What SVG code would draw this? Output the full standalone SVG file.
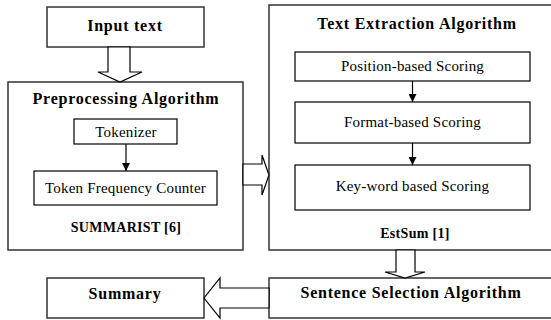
<svg xmlns="http://www.w3.org/2000/svg" width="551" height="320" viewBox="0 0 551 320">
<defs>
<style>
.outer{fill:#fff;stroke:#333;stroke-width:1.5}
.inner{fill:#fff;stroke:#000;stroke-width:1.2}
.t{font-family:"Liberation Serif","Tinos","Times New Roman","Times","DejaVu Serif",serif;fill:#000;text-anchor:middle}
.title{font-weight:bold;font-size:16px;letter-spacing:0.75px}
.label{font-size:15px;letter-spacing:0.2px}
.cite{font-weight:bold;font-size:14px;letter-spacing:0.3px}
.hollow{fill:#fff;stroke:#000;stroke-width:1.2;stroke-linejoin:miter}
.line{stroke:#000;stroke-width:1.2;fill:none}
</style>
<marker id="tri" viewBox="0 0 10 10" refX="10" refY="5" markerWidth="8" markerHeight="8" markerUnits="userSpaceOnUse" orient="auto">
<path d="M0,0 L10,5 L0,10 z" fill="#000"/>
</marker>
</defs>
<rect width="551" height="320" fill="#fff"/>

<g id="input-text">
<rect class="outer" x="47" y="7" width="157" height="40"/>
<text class="t title" x="125" y="31">Input text</text>
</g>

<g id="preprocessing">
<rect class="outer" x="8" y="82" width="235" height="168"/>
<text class="t title" x="126" y="104">Preprocessing Algorithm</text>
<text class="t cite" x="126" y="232">SUMMARIST [6]</text>
</g>

<g id="tokenizer">
<rect class="inner" x="74" y="119" width="103" height="25"/>
<text class="t label" x="126" y="137">Tokenizer</text>
</g>

<g id="token-frequency-counter">
<rect class="inner" x="34" y="171" width="183" height="34"/>
<text class="t label" x="125.5" y="193">Token Frequency Counter</text>
</g>

<g id="text-extraction">
<rect class="outer" x="269" y="5" width="290" height="245"/>
<text class="t title" x="417" y="29">Text Extraction Algorithm</text>
<text class="t cite" x="415" y="238">EstSum [1]</text>
</g>

<g id="position-scoring">
<rect class="inner" x="295" y="52" width="235" height="29"/>
<text class="t label" x="412.5" y="71">Position-based Scoring</text>
</g>

<g id="format-scoring">
<rect class="inner" x="295" y="102" width="235" height="41"/>
<text class="t label" x="412.5" y="127">Format-based Scoring</text>
</g>

<g id="keyword-scoring">
<rect class="inner" x="295" y="165" width="235" height="45"/>
<text class="t label" x="412.5" y="191">Key-word based Scoring</text>
</g>

<g id="sentence-selection">
<rect class="outer" x="269" y="278" width="290" height="40"/>
<text class="t title" x="411" y="298">Sentence Selection Algorithm</text>
</g>

<g id="summary">
<rect class="outer" x="47" y="278" width="157" height="40"/>
<text class="t title" x="125" y="299">Summary</text>
</g>

<g id="connectors">
<polygon class="hollow" points="108,47 108,72 98,72 120,82 142,72 130,72 130,47"/>
<polygon class="hollow" points="243,164 262,164 262,155 269,175 262,195 262,185 243,185"/>
<polygon class="hollow" points="396,250 396,272 385,272 405,278 425,272 415,272 415,250"/>
<polygon class="hollow" points="269,288 220,288 220,278 204,298 220,318 220,308 269,308"/>
<line class="line" x1="126" y1="144" x2="126" y2="171" marker-end="url(#tri)"/>
<line class="line" x1="412.5" y1="81" x2="412.5" y2="102" marker-end="url(#tri)"/>
<line class="line" x1="412.5" y1="143" x2="412.5" y2="165" marker-end="url(#tri)"/>
</g>
</svg>
